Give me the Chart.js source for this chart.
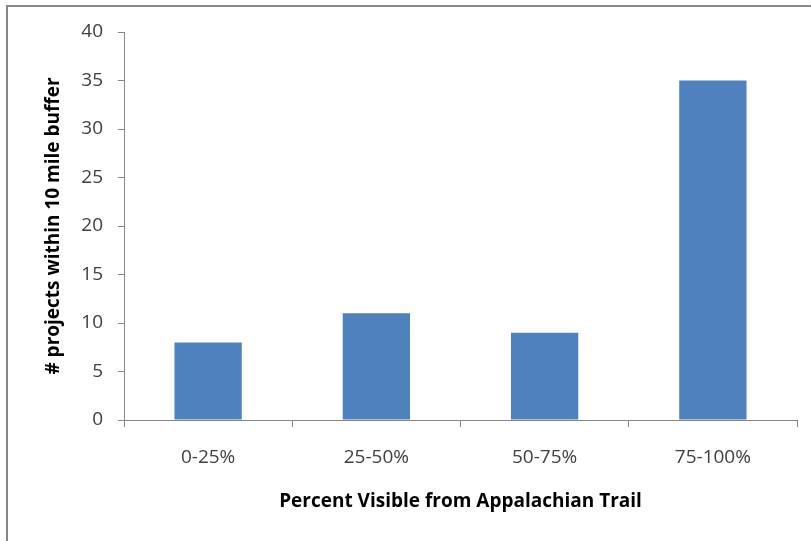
<!DOCTYPE html>
<html>
<head>
<meta charset="utf-8">
<script src="https://cdn.jsdelivr.net/npm/chart.js@4"></script>
<style>
    html, body { margin: 0; padding: 0; background: #fff; overflow: hidden; }
    #frame {
        position: absolute; left: 6px; top: 5px; width: 900px; height: 700px;
        border-top: 2px solid #888; border-left: 2px solid #888;
    }
    #chart { position: absolute; left: 0; top: 0; }
</style>
</head>
<body>
<div id="frame"></div>
<canvas id="chart" width="811" height="541"></canvas>
<script>
const categories = ['0-25%', '25-50%', '50-75%', '75-100%'];
const projectCounts = [8, 11, 9, 35];
const yTicks = [0, 5, 10, 15, 20, 25, 30, 35, 40];

const axisColor = '#878787';
const fontFamily = '"Open Sans", "Noto Sans", sans-serif';

const ctx = document.getElementById('chart').getContext('2d');

new Chart(ctx, {
    type: 'bar',
    data: {
        labels: categories,
        datasets: [{
            data: projectCounts,
            backgroundColor: '#4F81BD',
            borderWidth: 0,
            barPercentage: 0.4,
            categoryPercentage: 1.0
        }]
    },
    options: {
        responsive: false,
        animation: false,
        layout: {
            padding: { left: 0, top: 32, right: 14, bottom: 0 }
        },
        plugins: {
            legend: { display: false },
            tooltip: { enabled: false }
        },
        scales: {
            x: {
                grid: {
                    offset: true,
                    drawOnChartArea: false,
                    tickLength: 7,
                    color: axisColor
                },
                border: { color: axisColor, width: 1 },
                ticks: {
                    color: '#404040',
                    padding: 19,
                    maxRotation: 0,
                    font: { family: fontFamily, size: 19 }
                },
                title: {
                    display: true,
                    text: 'Percent Visible from Appalachian Trail',
                    color: '#000',
                    padding: { top: 0, bottom: 28 },
                    font: { family: fontFamily, size: 19, weight: 'bold' }
                },
                afterFit: scale => { scale.height = 121; }
            },
            y: {
                min: 0,
                max: 40,
                afterBuildTicks: scale => {
                    scale.ticks = yTicks.map(v => ({ value: v }));
                },
                grid: {
                    drawOnChartArea: false,
                    tickLength: 6,
                    color: axisColor
                },
                border: { color: axisColor, width: 1 },
                ticks: {
                    color: '#404040',
                    padding: 15,
                    font: { family: fontFamily, size: 19 }
                },
                title: {
                    display: true,
                    text: '# projects within 10 mile buffer',
                    color: '#000',
                    padding: { top: 42, bottom: 0 },
                    font: { family: fontFamily, size: 19, weight: 'bold' }
                },
                afterFit: scale => { scale.width = 124; }
            }
        }
    }
});
</script>
</body>
</html>
